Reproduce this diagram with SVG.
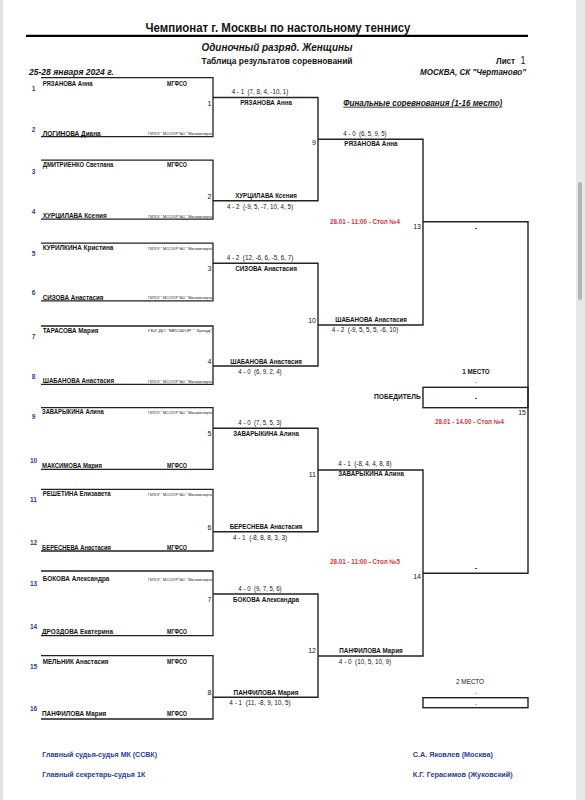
<svg xmlns="http://www.w3.org/2000/svg" width="585" height="800" viewBox="0 0 585 800">
<style>
text{font-family:"Liberation Sans Narrow","Liberation Sans",Arial,sans-serif;fill:#141414}
.ttl{font-size:13px;font-weight:bold;text-anchor:middle}
.sub{font-size:11.5px;font-weight:bold;font-style:italic;text-anchor:middle}
.sub2{font-size:9px;font-weight:bold;text-anchor:middle}
.hd{font-size:8.5px;font-weight:bold;font-style:italic}
.nm{font-size:7.2px;font-weight:bold}
.cl{font-size:6.3px;font-weight:bold;text-anchor:middle}
.cs{font-size:4.3px;text-anchor:end}
.sd{font-size:6.5px;font-weight:bold;fill:#2e3a9c;text-anchor:middle}
.mn{font-size:7px;text-anchor:end}
.sc{font-size:7px;text-anchor:middle;white-space:pre}
.wn{font-size:7.2px;font-weight:bold;text-anchor:middle}
.rd{font-size:6.5px;font-weight:bold;fill:#d8343e;text-anchor:middle}
.ds{font-size:7px;font-weight:bold;text-anchor:middle}
.pl{font-size:7.5px;font-weight:bold;text-anchor:middle}
.ft{font-size:8px;font-weight:bold;fill:#2e3a9c}
.ln{fill:none;stroke:#222;stroke-width:1.4}
.bx{fill:none;stroke:#222;stroke-width:1.3}
</style>
<rect x="0" y="0" width="585" height="800" fill="#ffffff"/>
<rect x="0" y="0" width="3" height="800" fill="#e2e2e2"/>
<rect x="576" y="0" width="9" height="800" fill="#e8e8e8"/>
<rect x="578" y="182" width="4" height="118" rx="2" fill="#b5b5b5"/>

<g id="header">
<text class="ttl" x="278" y="31.7" textLength="265" lengthAdjust="spacingAndGlyphs">Чемпионат г. Москвы по настольному теннису</text>
<line x1="26" y1="35.8" x2="528" y2="35.8" stroke="#000" stroke-width="2.2"/>
<text class="sub" x="277" y="50.7" textLength="151" lengthAdjust="spacingAndGlyphs">Одиночный разряд. Женщины</text>
<text class="sub2" x="277" y="64.3" textLength="151" lengthAdjust="spacingAndGlyphs">Таблица результатов соревнований</text>
<text x="496" y="64.3" style="font-size:9px;font-weight:bold" textLength="19" lengthAdjust="spacingAndGlyphs">Лист</text>
<text x="520.5" y="64.3" style="font-size:10px" textLength="5" lengthAdjust="spacingAndGlyphs">1</text>
<text class="hd" x="29" y="75" textLength="85" lengthAdjust="spacingAndGlyphs">25-28 января 2024 г.</text>
<text class="hd" x="526" y="75" text-anchor="end" textLength="106" lengthAdjust="spacingAndGlyphs">МОСКВА, СК "Чертаново"</text>
<text class="hd" x="343.3" y="105.7" style="font-size:8.5px;text-decoration:underline" textLength="159" lengthAdjust="spacingAndGlyphs">Финальные соревнования (1-16 место)</text>
</g>

<g id="connectors">
<path class="bx" d="M41,77.7 H213 V136.7 H41"/>
<path class="bx" d="M41,160.2 H213 V219.2 H41"/>
<path class="bx" d="M41,243.2 H213 V300.9 H41"/>
<path class="bx" d="M41,326 H213 V384.3 H41"/>
<path class="bx" d="M41,407.7 H213 V469.3 H41"/>
<path class="bx" d="M41,489.3 H213 V551 H41"/>
<path class="bx" d="M41,571 H213 V635.7 H41"/>
<path class="bx" d="M41,655.7 H213 V719 H41"/>
<path class="ln" d="M213,97.5 H318 V200.7 H213"/>
<path class="ln" d="M213,263.3 H318 V366 H213"/>
<path class="ln" d="M213,428.3 H318 V531.7 H213"/>
<path class="ln" d="M213,594 H318 V697.3 H213"/>
<path class="ln" d="M318,139.3 H423 V325 H318"/>
<path class="ln" d="M318,470 H423 V656 H318"/>
<path class="ln" d="M423,221.7 H528 V573.3 H423"/>
<rect class="ln" x="423" y="387.3" width="105" height="20.4"/>
<rect class="ln" x="423" y="697.7" width="105" height="10"/>
</g>

<g id="m1">
<text class="sd" x="33.5" y="90.5">1</text>
<text class="nm" x="42.7" y="85.5" textLength="50" lengthAdjust="spacingAndGlyphs">РЯЗАНОВА Анна</text>
<text class="cl" x="177" y="85.5" textLength="20" lengthAdjust="spacingAndGlyphs">МГФСО</text>
<text class="sd" x="33.5" y="131.5">2</text>
<text class="nm" x="42.7" y="135.5" textLength="58" lengthAdjust="spacingAndGlyphs">ЛОГИНОВА Диана</text>
<text class="cs" x="212" y="135" textLength="64" lengthAdjust="spacingAndGlyphs">ГБПОУ " МССУОР №1 " Москомспорта</text>
<text class="mn" x="211.5" y="105.5">1</text>
</g>
<g id="m2">
<text class="sd" x="33.5" y="173.5">3</text>
<text class="nm" x="42.7" y="167" textLength="70.7" lengthAdjust="spacingAndGlyphs">ДМИТРИЕНКО Светлана</text>
<text class="cl" x="177" y="167" textLength="20" lengthAdjust="spacingAndGlyphs">МГФСО</text>
<text class="sd" x="33.5" y="214">4</text>
<text class="nm" x="42.7" y="218" textLength="64" lengthAdjust="spacingAndGlyphs">ХУРЦИЛАВА Ксения</text>
<text class="cs" x="212" y="217.5" textLength="64" lengthAdjust="spacingAndGlyphs">ГБПОУ " МССУОР №1 " Москомспорта</text>
<text class="mn" x="211.5" y="199">2</text>
</g>
<g id="m3">
<text class="sd" x="33.5" y="256">5</text>
<text class="nm" x="42.7" y="250" textLength="70.7" lengthAdjust="spacingAndGlyphs">КУРИЛКИНА Кристина</text>
<text class="cs" x="212" y="249.5" textLength="64" lengthAdjust="spacingAndGlyphs">ГБПОУ " МССУОР №1 " Москомспорта</text>
<text class="sd" x="33.5" y="294.5">6</text>
<text class="nm" x="42.7" y="299.8" textLength="60.7" lengthAdjust="spacingAndGlyphs">СИЗОВА Анастасия</text>
<text class="cs" x="212" y="299.3" textLength="64" lengthAdjust="spacingAndGlyphs">ГБПОУ " МССУОР №1 " Москомспорта</text>
<text class="mn" x="211.5" y="270.7">3</text>
</g>
<g id="m4">
<text class="sd" x="33.5" y="338.5">7</text>
<text class="nm" x="42.7" y="332.5" textLength="55.7" lengthAdjust="spacingAndGlyphs">ТАРАСОВА Мария</text>
<text class="cs" x="212" y="332" textLength="64" lengthAdjust="spacingAndGlyphs">ГБУ ДО "МКСШОР " Запад"</text>
<text class="sd" x="33.5" y="378.8">8</text>
<text class="nm" x="42.7" y="383.1" textLength="71.3" lengthAdjust="spacingAndGlyphs">ШАБАНОВА Анастасия</text>
<text class="cs" x="212" y="382.6" textLength="64" lengthAdjust="spacingAndGlyphs">ГБПОУ " МССУОР №1 " Москомспорта</text>
<text class="mn" x="211.5" y="364">4</text>
</g>
<g id="m5">
<text class="sd" x="33.5" y="419">9</text>
<text class="nm" x="42" y="414" textLength="61.7" lengthAdjust="spacingAndGlyphs">ЗАВАРЫКИНА Алина</text>
<text class="cs" x="212" y="413.5" textLength="64" lengthAdjust="spacingAndGlyphs">ГБПОУ " МССУОР №1 " Москомспорта</text>
<text class="sd" x="33.5" y="463">10</text>
<text class="nm" x="42" y="468" textLength="60" lengthAdjust="spacingAndGlyphs">МАКСИМОВА Мария</text>
<text class="cl" x="177" y="468" textLength="20" lengthAdjust="spacingAndGlyphs">МГФСО</text>
<text class="mn" x="211.5" y="436">5</text>
</g>
<g id="m6">
<text class="sd" x="33.5" y="501.5">11</text>
<text class="nm" x="42.7" y="496" textLength="68" lengthAdjust="spacingAndGlyphs">РЕШЕТИНА Елизавета</text>
<text class="cs" x="212" y="495.5" textLength="64" lengthAdjust="spacingAndGlyphs">ГБПОУ " МССУОР №1 " Москомспорта</text>
<text class="sd" x="33.5" y="545">12</text>
<text class="nm" x="42" y="549.8" textLength="69" lengthAdjust="spacingAndGlyphs">БЕРЕСНЕВА Анастасия</text>
<text class="cl" x="177" y="549.8" textLength="20" lengthAdjust="spacingAndGlyphs">МГФСО</text>
<text class="mn" x="211.5" y="530">6</text>
</g>
<g id="m7">
<text class="sd" x="33.5" y="585.5">13</text>
<text class="nm" x="42.7" y="581" textLength="66.7" lengthAdjust="spacingAndGlyphs">БОКОВА Александра</text>
<text class="cs" x="212" y="580.5" textLength="64" lengthAdjust="spacingAndGlyphs">ГБПОУ " МССУОР №1 " Москомспорта</text>
<text class="sd" x="33.5" y="629">14</text>
<text class="nm" x="42" y="634" textLength="71" lengthAdjust="spacingAndGlyphs">ДРОЗДОВА Екатерина</text>
<text class="cl" x="177" y="634" textLength="20" lengthAdjust="spacingAndGlyphs">МГФСО</text>
<text class="mn" x="211.5" y="601.7">7</text>
</g>
<g id="m8">
<text class="sd" x="33.5" y="669">15</text>
<text class="nm" x="42.7" y="664" textLength="65.7" lengthAdjust="spacingAndGlyphs">МЕЛЬНИК Анастасия</text>
<text class="cl" x="177" y="664" textLength="20" lengthAdjust="spacingAndGlyphs">МГФСО</text>
<text class="sd" x="33.5" y="710.5">16</text>
<text class="nm" x="42" y="716" textLength="64.3" lengthAdjust="spacingAndGlyphs">ПАНФИЛОВА Мария</text>
<text class="cl" x="177" y="716" textLength="20" lengthAdjust="spacingAndGlyphs">МГФСО</text>
<text class="mn" x="211.5" y="695">8</text>
</g>

<g id="m9">
<text class="sc" x="260" y="94" textLength="56.7" lengthAdjust="spacingAndGlyphs">4 - 1  (7, 8, 4, -10, 1)</text>
<text class="wn" x="266" y="105" textLength="51.7" lengthAdjust="spacingAndGlyphs">РЯЗАНОВА Анна</text>
<text class="wn" x="266" y="198.2" textLength="61.7" lengthAdjust="spacingAndGlyphs">ХУРЦИЛАВА Ксения</text>
<text class="sc" x="260" y="208.7" textLength="66" lengthAdjust="spacingAndGlyphs">4 - 2  (-9, 5, -7, 10, 4, 5)</text>
<text class="mn" x="316" y="145">9</text>
</g>
<g id="m10">
<text class="sc" x="260" y="259.5" textLength="66.7" lengthAdjust="spacingAndGlyphs">4 - 2  (12, -6, 6, -5, 6, 7)</text>
<text class="wn" x="266" y="270.5" textLength="61.7" lengthAdjust="spacingAndGlyphs">СИЗОВА Анастасия</text>
<text class="wn" x="266" y="363.5" textLength="71.7" lengthAdjust="spacingAndGlyphs">ШАБАНОВА Анастасия</text>
<text class="sc" x="260" y="374" textLength="43.3" lengthAdjust="spacingAndGlyphs">4 - 0  (6, 9, 2, 4)</text>
<text class="mn" x="316" y="322.5">10</text>
</g>
<g id="m11">
<text class="sc" x="260" y="424.8" textLength="43.3" lengthAdjust="spacingAndGlyphs">4 - 0  (7, 5, 5, 3)</text>
<text class="wn" x="266" y="435.5" textLength="65.7" lengthAdjust="spacingAndGlyphs">ЗАВАРЫКИНА Алина</text>
<text class="wn" x="266" y="529" textLength="72.7" lengthAdjust="spacingAndGlyphs">БЕРЕСНЕВА Анастасия</text>
<text class="sc" x="260" y="539.5" textLength="54" lengthAdjust="spacingAndGlyphs">4 - 1  (-8, 8, 8, 3, 3)</text>
<text class="mn" x="316" y="477.3">11</text>
</g>
<g id="m12">
<text class="sc" x="260" y="590.5" textLength="43.3" lengthAdjust="spacingAndGlyphs">4 - 0  (9, 7, 5, 6)</text>
<text class="wn" x="266" y="601.5" textLength="66" lengthAdjust="spacingAndGlyphs">БОКОВА Александра</text>
<text class="wn" x="266" y="694.8" textLength="65" lengthAdjust="spacingAndGlyphs">ПАНФИЛОВА Мария</text>
<text class="sc" x="260" y="705.3" textLength="61.3" lengthAdjust="spacingAndGlyphs">4 - 1  (11, -8, 9, 10, 5)</text>
<text class="mn" x="316" y="652.7">12</text>
</g>
<g id="m13">
<text class="sc" x="365" y="136" textLength="43.3" lengthAdjust="spacingAndGlyphs">4 - 0  (6, 5, 9, 5)</text>
<text class="wn" x="371" y="146" textLength="53.3" lengthAdjust="spacingAndGlyphs">РЯЗАНОВА Анна</text>
<text class="rd" x="365" y="224" textLength="70" lengthAdjust="spacingAndGlyphs">28.01 - 11:00 - Стол №4</text>
<text class="wn" x="371" y="322" textLength="71.7" lengthAdjust="spacingAndGlyphs">ШАБАНОВА Анастасия</text>
<text class="sc" x="365" y="332" textLength="66.7" lengthAdjust="spacingAndGlyphs">4 - 2  (-9, 5, 5, 5, -6, 10)</text>
<text class="mn" x="421" y="229">13</text>
</g>
<g id="m14">
<text class="sc" x="365" y="466" textLength="53.3" lengthAdjust="spacingAndGlyphs">4 - 1  (-8, 4, 4, 8, 8)</text>
<text class="wn" x="371" y="476.3" textLength="65.7" lengthAdjust="spacingAndGlyphs">ЗАВАРЫКИНА Алина</text>
<text class="rd" x="365" y="564" textLength="70" lengthAdjust="spacingAndGlyphs">28.01 - 11:00 - Стол №5</text>
<text class="wn" x="371" y="653.3" textLength="63.3" lengthAdjust="spacingAndGlyphs">ПАНФИЛОВА Мария</text>
<text class="sc" x="365" y="663.5" textLength="52.3" lengthAdjust="spacingAndGlyphs">4 - 0  (10, 5, 10, 9)</text>
<text class="mn" x="421" y="579">14</text>
</g>
<g id="m15">
<text class="ds" x="476" y="229.5">-</text>
<text class="ds" x="476" y="570">-</text>
<text class="mn" x="526" y="415">15</text>
<text class="rd" x="469.5" y="424.3" textLength="69" lengthAdjust="spacingAndGlyphs">28.01 - 14.00 - Стол №4</text>
</g>
<g id="winner">
<text class="pl" x="476" y="374.3" textLength="27.3" lengthAdjust="spacingAndGlyphs">1 МЕСТО</text>
<text class="ds" x="476" y="384.3" style="font-size:5.5px;font-weight:normal">-</text>
<text class="nm" x="420.7" y="399.3" text-anchor="end" style="font-size:7.5px" textLength="46.7" lengthAdjust="spacingAndGlyphs">ПОБЕДИТЕЛЬ</text>
<text class="ds" x="476" y="399.5">-</text>
</g>
<g id="second">
<text class="pl" x="470" y="684.3" style="font-weight:normal" textLength="28" lengthAdjust="spacingAndGlyphs">2 МЕСТО</text>
<text class="ds" x="476" y="695" style="font-size:5.5px;font-weight:normal">-</text>
<text class="ds" x="476" y="705.5" style="font-size:5.5px;font-weight:normal">-</text>
</g>

<g id="footer">
<text class="ft" x="42.3" y="756.7" textLength="114.7" lengthAdjust="spacingAndGlyphs">Главный судья-судья МК (ССВК)</text>
<text class="ft" x="42.3" y="777.3" textLength="103" lengthAdjust="spacingAndGlyphs">Главный секретарь-судья 1К</text>
<text class="ft" x="412.8" y="756.7" textLength="80" lengthAdjust="spacingAndGlyphs">С.А. Яковлев (Москва)</text>
<text class="ft" x="412.8" y="777.3" textLength="100" lengthAdjust="spacingAndGlyphs">К.Г. Герасимов (Жуковский)</text>
</g>
</svg>
